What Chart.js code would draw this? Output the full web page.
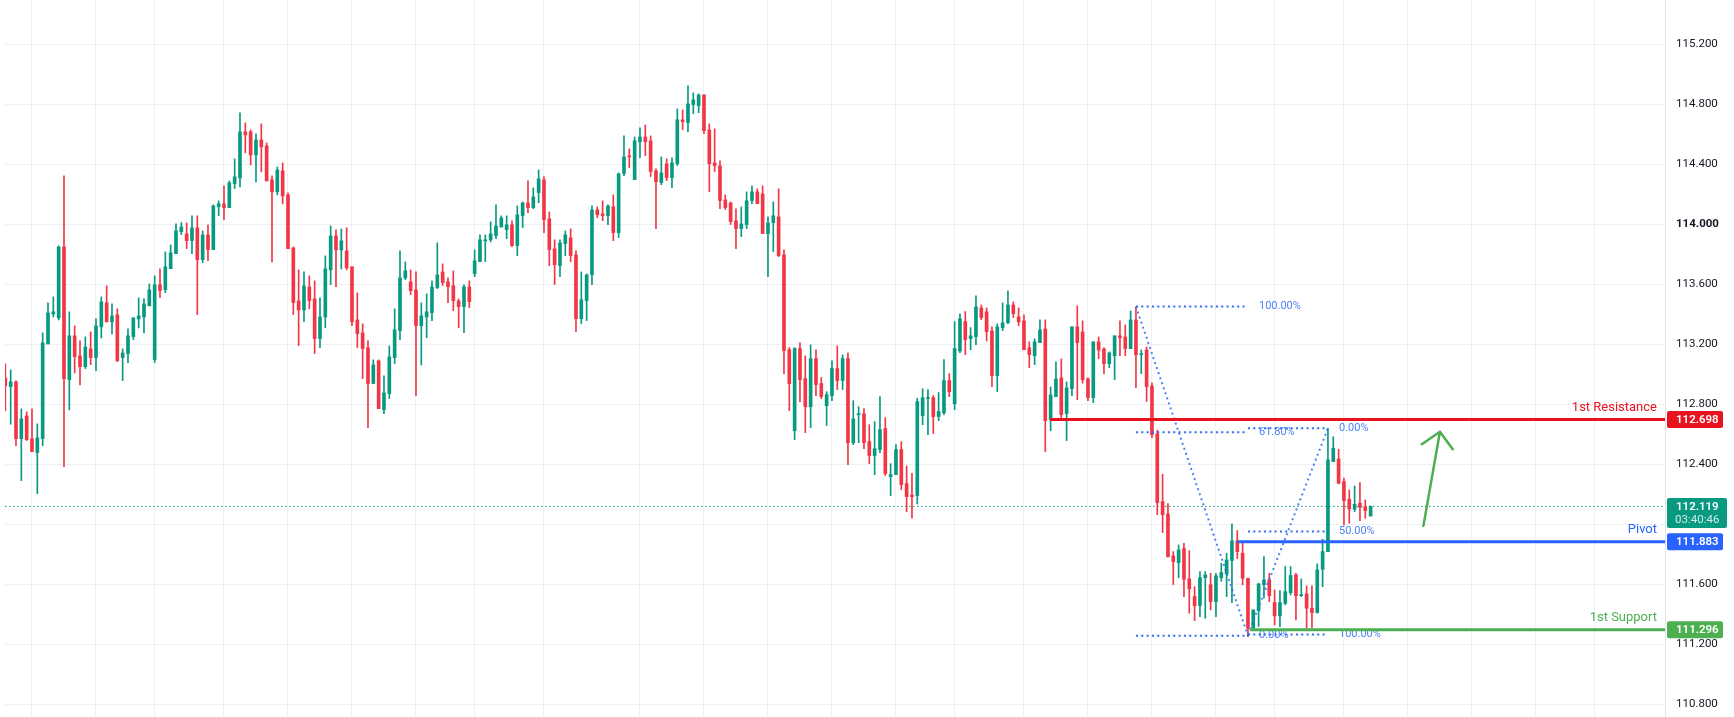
<!DOCTYPE html>
<html>
<head>
<meta charset="utf-8">
<script src="https://cdn.jsdelivr.net/npm/chart.js@4.4.1/dist/chart.umd.min.js"></script>
<style>
html,body{margin:0;padding:0;background:#ffffff;}
canvas{display:block;}
</style>
</head>
<body>
<canvas id="priceChart" width="1734" height="717"></canvas>
<script>

/* ---------- CANDLE DATA (hourly, oldest first) ---------- */

const opens = [
112.976,112.918,112.949,112.571,112.722,112.569,112.478,112.571,113.202,113.402,
113.376,113.849,112.964,113.256,113.122,113.051,113.169,113.111,113.316,113.476,
113.349,113.396,113.111,113.138,113.251,113.369,113.382,113.456,113.098,113.596,
113.564,113.704,113.804,113.951,113.936,113.891,113.976,113.764,113.929,113.831,
114.118,114.136,114.111,114.271,114.309,114.616,114.616,114.462,114.562,114.522,
114.296,114.216,114.356,114.196,113.842,113.489,113.429,113.582,113.502,113.238,
113.382,113.696,113.922,113.829,113.822,113.716,113.362,113.276,113.176,112.938,
113.089,112.764,112.871,113.111,113.291,113.642,113.616,113.562,113.324,113.382,
113.411,113.578,113.682,113.616,113.589,113.489,113.451,113.582,113.671,113.751,
113.889,113.896,113.924,113.982,113.964,113.996,113.858,114.058,114.142,114.111,
114.211,114.296,114.036,113.836,113.724,113.871,113.909,113.796,113.371,113.491,
113.664,114.096,114.069,114.058,114.116,113.944,114.338,114.456,114.298,114.549,
114.582,114.556,114.356,114.278,114.402,114.311,114.404,114.696,114.678,114.798,
114.791,114.862,114.629,114.409,114.389,114.162,114.142,114.022,113.971,113.998,
114.158,114.216,114.202,113.938,114.011,114.049,113.796,113.164,112.624,113.171,
112.971,112.784,113.104,112.938,112.791,112.858,113.038,112.958,113.104,112.544,
112.731,112.736,112.551,112.458,112.498,112.638,112.318,112.331,112.498,112.271,
112.195,112.191,112.724,112.838,112.844,112.718,112.744,112.958,112.804,113.155,
113.351,113.238,113.251,113.442,113.416,113.289,112.991,113.311,113.344,113.462,
113.382,113.356,113.176,113.124,113.211,113.302,112.698,112.851,112.976,112.738,
112.904,113.316,113.282,112.969,112.844,113.216,113.169,113.071,113.124,113.256,
113.249,113.171,113.362,113.131,113.162,112.922,112.604,112.151,112.069,111.789,
111.744,111.838,111.636,111.518,111.458,111.644,111.596,111.484,111.644,111.669,
111.758,111.889,111.807,111.640,111.307,111.424,111.596,111.629,111.478,111.389,
111.473,111.544,111.662,111.524,111.536,111.440,111.411,111.700,111.818,112.418,
112.435,112.284,112.167,112.100,112.140,112.117,112.055
];

const highs = [
113.069,113.029,112.956,112.769,112.749,112.769,112.669,113.276,113.476,113.516,
113.856,114.322,113.416,113.322,113.222,113.249,113.282,113.369,113.516,113.589,
113.469,113.436,113.169,113.302,113.376,113.509,113.502,113.602,113.656,113.702,
113.816,113.862,114.002,114.011,114.009,114.056,114.056,113.956,113.996,114.129,
114.156,114.256,114.289,114.436,114.742,114.676,114.629,114.602,114.669,114.542,
114.322,114.382,114.409,114.209,113.849,113.696,113.682,113.656,113.622,113.509,
113.789,113.989,113.962,113.969,113.976,113.716,113.542,113.336,113.222,113.096,
113.096,112.989,113.189,113.436,113.822,113.749,113.696,113.682,113.476,113.536,
113.622,113.876,113.736,113.642,113.689,113.502,113.596,113.622,113.829,113.929,
113.929,114.016,114.129,114.056,114.056,114.022,114.122,114.149,114.289,114.242,
114.362,114.316,114.082,113.896,113.896,113.956,113.969,113.822,113.682,113.669,
114.122,114.116,114.156,114.129,114.196,114.342,114.589,114.502,114.582,114.642,
114.662,114.589,114.369,114.449,114.436,114.442,114.769,114.762,114.922,114.876,
114.869,114.862,114.669,114.636,114.422,114.196,114.149,114.102,114.116,114.216,
114.256,114.236,114.256,114.049,114.149,114.236,113.829,113.178,113.178,113.209,
113.122,113.196,113.162,112.978,112.884,113.089,113.189,113.129,113.142,112.824,
112.784,112.771,112.664,112.684,112.851,112.711,112.404,112.531,112.551,112.389,
112.340,112.840,112.904,112.898,112.858,112.878,113.098,113.004,113.351,113.402,
113.418,113.311,113.522,113.462,113.442,113.316,113.336,113.476,113.556,113.482,
113.442,113.396,113.216,113.236,113.362,113.362,112.916,113.082,113.102,112.949,
113.316,113.456,113.356,112.976,113.216,113.249,113.176,113.149,113.256,113.356,
113.329,113.422,113.449,113.162,113.182,112.942,112.627,112.333,112.138,111.818,
111.862,111.873,111.824,111.584,111.684,111.684,111.673,111.673,111.740,111.807,
112.002,111.958,111.873,111.640,111.429,111.607,111.784,111.673,111.562,111.558,
111.718,111.718,111.673,111.636,111.589,111.589,111.736,111.900,112.640,112.584,
112.500,112.307,112.229,112.255,112.277,112.162,112.122
];

const lows = [
112.758,112.667,112.524,112.291,112.558,112.484,112.204,112.524,113.202,113.382,
113.362,112.384,112.762,113.009,112.929,113.038,113.064,113.024,113.242,113.349,
113.269,113.084,112.958,113.078,113.231,113.309,113.276,113.456,113.078,113.511,
113.544,113.704,113.804,113.931,113.838,113.804,113.398,113.744,113.758,113.831,
114.058,114.031,114.111,114.238,114.249,114.476,114.396,114.282,114.349,114.289,
113.749,114.196,114.136,113.838,113.398,113.191,113.351,113.436,113.138,113.178,
113.311,113.598,113.584,113.702,113.696,113.324,113.178,112.971,112.644,112.938,
112.771,112.738,112.838,113.071,113.231,113.631,113.531,112.858,113.062,113.244,
113.358,113.571,113.591,113.478,113.424,113.311,113.278,113.444,113.651,113.751,
113.751,113.882,113.904,113.982,113.904,113.851,113.791,113.978,114.078,114.104,
114.144,113.944,113.724,113.598,113.651,113.791,113.751,113.284,113.338,113.358,
113.598,114.044,114.024,113.998,113.891,113.911,114.324,114.378,114.298,114.444,
114.458,114.318,113.971,114.264,114.291,114.244,114.391,114.631,114.618,114.738,
114.744,114.604,114.218,114.351,114.104,114.098,113.998,113.838,113.918,113.971,
114.138,114.138,113.938,113.651,113.818,113.784,113.004,112.758,112.564,112.818,
112.611,112.644,112.858,112.838,112.658,112.824,112.898,112.898,112.398,112.531,
112.544,112.504,112.404,112.331,112.478,112.324,112.191,112.331,112.231,112.084,
112.040,112.135,112.664,112.598,112.604,112.691,112.731,112.851,112.764,113.144,
113.131,113.164,113.198,113.364,113.222,112.918,112.884,113.291,113.338,113.378,
113.324,113.164,113.044,113.064,113.211,112.484,112.624,112.851,112.698,112.558,
112.858,112.831,112.940,112.824,112.811,113.104,113.004,113.044,112.964,113.124,
113.124,113.171,112.911,113.004,112.818,112.578,112.064,111.944,111.780,111.598,
111.644,111.518,111.407,111.358,111.384,111.373,111.429,111.384,111.620,111.518,
111.478,111.771,111.596,111.251,111.300,111.318,111.507,111.484,111.329,111.318,
111.462,111.529,111.362,111.518,111.307,111.307,111.407,111.584,111.818,112.418,
112.269,111.995,112.007,112.084,112.024,112.040,112.055
];

const closes = [
112.924,112.949,112.571,112.702,112.564,112.484,112.576,113.209,113.409,113.416,
113.849,112.971,113.256,113.118,113.051,113.182,113.111,113.322,113.482,113.349,
113.389,113.091,113.142,113.256,113.376,113.389,113.469,113.562,113.596,113.558,
113.716,113.809,113.956,113.982,113.891,113.976,113.764,113.929,113.831,114.122,
114.136,114.111,114.276,114.316,114.616,114.596,114.462,114.562,114.516,114.289,
114.216,114.362,114.189,113.838,113.478,113.429,113.589,113.491,113.238,113.382,
113.702,113.922,113.829,113.889,113.709,113.351,113.271,113.171,112.938,113.062,
112.771,112.876,113.116,113.296,113.642,113.689,113.558,113.324,113.389,113.416,
113.582,113.662,113.611,113.584,113.491,113.451,113.582,113.484,113.756,113.896,
113.896,113.936,113.989,114.042,113.996,113.858,114.062,114.142,114.111,114.182,
114.302,114.031,113.831,113.731,113.876,113.929,113.791,113.371,113.496,113.662,
114.096,114.064,114.058,114.122,113.944,114.336,114.449,114.449,114.556,114.582,
114.551,114.351,114.284,114.342,114.311,114.409,114.696,114.684,114.802,114.829,
114.862,114.624,114.404,114.391,114.158,114.111,114.018,113.971,114.002,114.156,
114.216,114.138,113.938,114.009,114.056,113.791,113.158,112.938,113.171,112.964,
112.784,113.104,112.931,112.851,112.864,113.038,112.958,113.104,112.544,112.702,
112.736,112.544,112.458,112.504,112.631,112.338,112.331,112.498,112.264,112.184,
112.184,112.818,112.844,112.844,112.718,112.751,112.958,112.884,113.171,113.370,
113.231,113.256,113.449,113.378,113.284,112.991,113.316,113.342,113.462,113.404,
113.349,113.164,113.131,113.216,113.296,112.691,112.862,112.969,112.731,112.909,
113.316,113.211,112.964,112.844,113.216,113.162,113.071,113.142,113.256,113.242,
113.171,113.362,113.131,113.136,112.918,112.598,112.144,112.064,111.784,111.751,
111.829,111.633,111.569,111.456,111.644,111.662,111.484,111.656,111.678,111.762,
111.889,111.818,111.640,111.307,111.429,111.602,111.629,111.524,111.389,111.478,
111.551,111.658,111.524,111.531,111.440,111.411,111.696,111.818,112.429,112.507,
112.273,112.157,112.102,112.133,112.113,112.091,112.119
];

/* ---------- AXES ---------- */

const priceTicks = [110.8,111.2,111.6,112.0,112.4,112.8,113.2,113.6,114.0,114.4,114.8,115.2];
// candle numbers where the time grid lines fall
const timeGrid = [5,17,28,41,53,65,77,88,101,119,131,143,155,167,178,191,203,215,227,238,251,263,275,287,298];

/* ---------- DRAWINGS ---------- */

const lastPrice = 112.119;
const countdown = "03:40:46";

const levelNames = ["1st Resistance","Pivot","1st Support"];
const levelPrices = [112.698,111.883,111.296];
const levelStart = [195.9,231.0,233.4];

// fib retracements: start candle/price, end candle/price, levels
const fibStartX = [212,233];
const fibStartP = [113.451,111.265];
const fibEndX = [233,248];
const fibEndP = [111.257,112.640];
const fibLevels = [[1,0.618,0],[1,0.5,0]];

// hand drawn arrow (candle, price)
const arrowTail = [265.9,111.989];
const arrowTip = [269.0,112.617];
const arrowWings = [[265.6,112.533],[271.4,112.500]];


/* ---------- COLORS ---------- */

const upColor = "#089981";
const downColor = "#f23645";
const gridColor = "#eef0f3";
const levelColors = ["#e8131f","#2962ff","#4caf50"];
const fibColor = "#2f6cf6";

Chart.defaults.font.family = "Roboto, 'Liberation Sans', sans-serif";


/* ---------- BUILD DATASETS ---------- */

const candleColors = opens.map((o,i)=> closes[i] >= o ? upColor : downColor);

const wickData = opens.map((o,i)=>({x:i, y:[lows[i], highs[i]]}));
const bodyData = opens.map((o,i)=>({x:i, y:[o, closes[i]]}));


/* ---------- OVERLAY PLUGIN ---------- */

function dotted(ctx,x1,y1,x2,y2,color){
ctx.save()
ctx.strokeStyle = color
ctx.lineWidth = 2
ctx.setLineDash([2,3.33])
ctx.beginPath()
ctx.moveTo(x1,y1)
ctx.lineTo(x2,y2)
ctx.stroke()
ctx.restore()
}

function priceTag(ctx,x,y,w,h,color,text){
ctx.fillStyle = color
ctx.beginPath()
ctx.roundRect(x,y-h/2,w,h,2)
ctx.fill()
ctx.fillStyle = "#ffffff"
ctx.font = "600 11.5px Roboto"
ctx.textAlign = "left"
ctx.textBaseline = "middle"
ctx.fillText(text,x+9,y+0.5)
}

const overlay = {
id:"overlay",

beforeDatasetsDraw(chart){
const ctx = chart.ctx
const area = chart.chartArea
const y = chart.scales.y.getPixelForValue(lastPrice)
ctx.save()
ctx.strokeStyle = upColor
ctx.lineWidth = 1
ctx.setLineDash([1.5,2.5])
ctx.beginPath()
ctx.moveTo(area.left,y)
ctx.lineTo(area.right,y)
ctx.stroke()
ctx.restore()
},

afterDatasetsDraw(chart){
const ctx = chart.ctx
const area = chart.chartArea
const sx = chart.scales.x
const sy = chart.scales.y

ctx.save()
ctx.beginPath()
ctx.rect(area.left,area.top,area.right-area.left,area.bottom-area.top)
ctx.clip()

/* fib retracements */
fibStartX.forEach((x1,k)=>{
const px1 = sx.getPixelForValue(x1)
const px2 = sx.getPixelForValue(fibEndX[k])
dotted(ctx,px1,sy.getPixelForValue(fibStartP[k]),px2,sy.getPixelForValue(fibEndP[k]),"rgba(47,108,246,0.85)")
fibLevels[k].forEach(l=>{
const p = fibEndP[k] + l*(fibStartP[k]-fibEndP[k])
const py = sy.getPixelForValue(p)
dotted(ctx,px1,py,px2,py,fibColor)
ctx.fillStyle = "rgba(47,108,246,0.85)"
ctx.font = "11px Roboto"
ctx.textAlign = "left"
ctx.textBaseline = "middle"
ctx.fillText((l*100).toFixed(2)+"%",px2+11,py)
})
})

/* support / resistance levels */
levelPrices.forEach((p,k)=>{
const y = sy.getPixelForValue(p)
ctx.strokeStyle = levelColors[k]
ctx.lineWidth = 3
ctx.beginPath()
ctx.moveTo(sx.getPixelForValue(levelStart[k]),y)
ctx.lineTo(area.right,y)
ctx.stroke()
ctx.fillStyle = levelColors[k]
ctx.font = "13px Roboto"
ctx.textAlign = "right"
ctx.textBaseline = "middle"
ctx.fillText(levelNames[k],area.right-8,y-12)
})

/* arrow */
ctx.strokeStyle = "#4caf50"
ctx.lineWidth = 2.5
ctx.lineCap = "round"
ctx.lineJoin = "round"
const tipX = sx.getPixelForValue(arrowTip[0])
const tipY = sy.getPixelForValue(arrowTip[1])
ctx.beginPath()
ctx.moveTo(sx.getPixelForValue(arrowTail[0]),sy.getPixelForValue(arrowTail[1]))
ctx.lineTo(tipX,tipY)
ctx.moveTo(sx.getPixelForValue(arrowWings[0][0]),sy.getPixelForValue(arrowWings[0][1]))
ctx.lineTo(tipX,tipY)
ctx.lineTo(sx.getPixelForValue(arrowWings[1][0]),sy.getPixelForValue(arrowWings[1][1]))
ctx.stroke()

ctx.restore()
},

afterDraw(chart){
const ctx = chart.ctx
const area = chart.chartArea
const sy = chart.scales.y
ctx.save()

levelPrices.forEach((p,k)=>{
priceTag(ctx,area.right+2,sy.getPixelForValue(p),56,17,levelColors[k],p.toFixed(3))
})

/* last price with countdown */
const y = sy.getPixelForValue(lastPrice)
ctx.fillStyle = upColor
ctx.beginPath()
ctx.roundRect(area.right+2,y-8.5,60,30,2)
ctx.fill()
ctx.fillStyle = "#ffffff"
ctx.font = "600 11.5px Roboto"
ctx.textAlign = "left"
ctx.textBaseline = "middle"
ctx.fillText(lastPrice.toFixed(3),area.right+11,y+0.5)
ctx.fillStyle = "rgba(255,255,255,0.82)"
ctx.font = "11.5px Roboto"
ctx.fillText(countdown,area.right+10,y+14)

ctx.restore()
}
}


/* ---------- CREATE CHART ---------- */

const priceChart = new Chart(document.getElementById("priceChart").getContext("2d"),{

type:"bar",

data:{
datasets:[
{
data:wickData,
backgroundColor:candleColors,
barThickness:1,
grouped:false,
order:2
},
{
data:bodyData,
backgroundColor:candleColors,
barThickness:3,
minBarLength:1,
grouped:false,
order:1
}
]
},

options:{
responsive:false,
devicePixelRatio:1,
animation:false,
events:[],
layout:{padding:{left:5,right:0,top:0,bottom:0}},

plugins:{
legend:{display:false},
tooltip:{enabled:false}
},

scales:{
x:{
type:"linear",
min:-0.062,
max:311.2,
offset:false,
grid:{color:gridColor,drawTicks:false,offset:false},
border:{display:false},
ticks:{display:false},
afterBuildTicks:(s)=>{ s.ticks = timeGrid.map(v=>({value:v})) },
afterFit:(s)=>{ s.height = 0; s.paddingLeft = 0; s.paddingRight = 0; s.paddingTop = 0; s.paddingBottom = 0 }
},

y:{
position:"right",
min:110.715,
max:115.495,
grid:{color:gridColor,drawTicks:false},
border:{color:"#e0e3eb"},
ticks:{
padding:11,
color:"#131722",
font:(c)=>({size:11.5, weight:(c.tick && c.tick.value === 114) ? "bold" : "normal"}),
callback:(v)=>Number(v).toFixed(3)
},
afterBuildTicks:(s)=>{ s.ticks = priceTicks.map(v=>({value:v})) },
afterFit:(s)=>{ s.width = 69; s.paddingTop = 0; s.paddingBottom = 0; s.paddingLeft = 0; s.paddingRight = 0 }
}
}
},

plugins:[overlay]

})

</script>
</body>
</html>
